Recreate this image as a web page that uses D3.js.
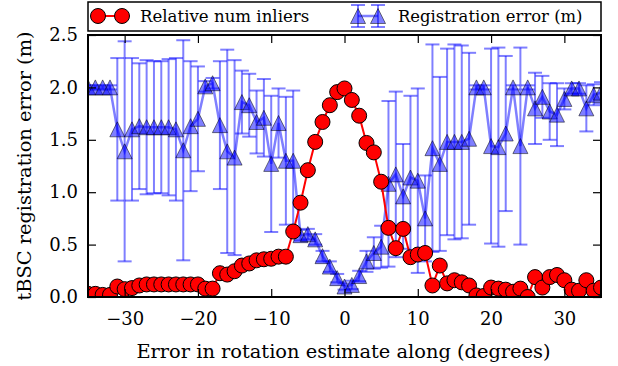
<!DOCTYPE html>
<html><head><meta charset="utf-8">
<script src="https://cdn.jsdelivr.net/npm/d3@7"></script>
<style>body{margin:0;background:#fff}text{font-family:"DejaVu Serif",serif;fill:#000}</style>
</head><body><svg id="c" width="618" height="366"></svg>
<script>
const angles = [-35,-34,-33,-32,-31,-30,-29,-28,-27,-26,-25,-24,-23,-22,-21,-20,-19,-18,-17,-16,-15,-14,-13,-12,-11,-10,-9,-8,-7,-6,-5,-4,-3,-2,-1,0,1,2,3,4,5,6,7,8,9,10,11,12,13,14,15,16,17,18,19,20,21,22,23,24,25,26,27,28,29,30,31,32,33,34,35];
const inliers = [0.03,0.03,0.02,0.02,0.10,0.075,0.085,0.11,0.12,0.12,0.12,0.12,0.12,0.12,0.12,0.12,0.08,0.08,0.227,0.214,0.246,0.30,0.32,0.35,0.36,0.365,0.385,0.385,0.625,0.90,1.21,1.48,1.67,1.83,1.955,1.99,1.88,1.73,1.47,1.38,1.10,0.66,0.466,0.65,0.38,0.405,0.42,0.11,0.30,0.13,0.16,0.14,0.11,0.015,0.01,0.09,0.08,0.07,0.05,0.08,0.0,0.19,0.09,0.19,0.21,0.16,0.07,0.06,0.16,0.06,0.09];
const errMean = [2.0,2.0,2.0,2.0,1.60,1.39,1.60,1.63,1.62,1.62,1.62,1.62,1.60,1.40,1.63,1.70,2.01,2.04,1.64,1.39,1.33,1.86,1.83,1.67,1.71,1.27,1.66,1.30,1.30,0.59,0.60,0.55,0.39,0.29,0.18,0.10,0.115,0.20,0.34,0.42,0.48,1.08,1.17,0.96,1.14,1.11,0.75,1.42,1.27,1.48,1.48,1.48,1.51,2.0,2.0,1.44,1.43,1.56,2.0,1.44,2.0,1.80,1.91,1.77,1.74,1.89,1.99,1.99,1.80,1.93,1.95];
const errStd = [0.02,0.02,0.02,0.02,0.68,1.05,0.68,0.60,0.64,0.63,0.63,0.65,0.68,1.05,0.62,0.50,0.05,0.05,0.61,0.97,0.93,0.30,0.30,0.30,0.37,0.65,0.33,0.61,0.67,0.05,0.05,0.05,0.05,0.05,0.04,0.03,0.04,0.05,0.10,0.15,0.20,0.79,0.79,0.50,0.78,0.88,0.41,0.99,0.83,0.89,0.93,0.92,0.82,0.02,0.02,0.93,0.95,0.74,0.02,0.94,0.02,0.34,0.20,0.27,0.30,0.10,0.05,0.05,0.22,0.10,0.10];
const xTicks = [-30,-20,-10,0,10,20,30];
const yTicks = [0.0,0.5,1.0,1.5,2.0,2.5];
const seriesNames = ["Relative num inliers","Registration error (m)"];
const xTitle = "Error in rotation estimate along (degrees)";
const yTitle = "tBSC registration error (m)";

const svg = d3.select("#c");
const L=88, R=601, T=35, B=297;
const x = d3.scaleLinear().domain([-35,35]).range([L,R]);
const y = d3.scaleLinear().domain([0,2.5]).range([B,T]);

svg.append("defs").append("clipPath").attr("id","clip").append("rect")
  .attr("x",L).attr("y",T).attr("width",R-L).attr("height",B-T);

const g = svg.append("g").attr("clip-path","url(#clip)");
const data = angles.map((a,i)=>({a, inl:inliers[i], m:errMean[i], s:errStd[i]}));
const blue = "#0000ff";
const cap = 7;
const tri = 7.5;
const triPath = `M0,${-tri}L${tri},${tri}L${-tri},${tri}Z`;

const eb = g.append("g").attr("stroke",blue).attr("stroke-opacity",0.5).attr("stroke-width",2).attr("fill","none");
data.forEach(d=>{
  const y0=y(d.m-d.s), y1=y(d.m+d.s), cx=x(d.a);
  eb.append("line").attr("x1",cx).attr("x2",cx).attr("y1",y0).attr("y2",y1);
  eb.append("line").attr("x1",cx-cap).attr("x2",cx+cap).attr("y1",y0).attr("y2",y0);
  eb.append("line").attr("x1",cx-cap).attr("x2",cx+cap).attr("y1",y1).attr("y2",y1);
});
g.append("path").datum(data).attr("fill","none").attr("stroke",blue).attr("stroke-opacity",0.5).attr("stroke-width",2.5)
  .attr("d",d3.line().x(d=>x(d.a)).y(d=>y(d.m)));
g.append("g").selectAll("path").data(data).join("path")
  .attr("d",triPath).attr("transform",d=>`translate(${x(d.a)},${y(d.m)})`)
  .attr("fill",blue).attr("fill-opacity",0.5).attr("stroke","#000").attr("stroke-opacity",0.5).attr("stroke-width",1);

g.append("path").datum(data).attr("fill","none").attr("stroke","#ff0000").attr("stroke-width",2)
  .attr("d",d3.line().x(d=>x(d.a)).y(d=>y(d.inl)));
g.append("g").selectAll("circle").data(data).join("circle")
  .attr("cx",d=>x(d.a)).attr("cy",d=>y(d.inl)).attr("r",7.5)
  .attr("fill","#ff0000").attr("stroke","#000").attr("stroke-width",1);

const tl = 8;
const xa = svg.append("g").attr("transform",`translate(0,${B})`)
  .call(d3.axisBottom(x).tickValues(xTicks).tickSizeInner(-tl).tickSizeOuter(0).tickPadding(15).tickFormat(d=>d<0?"\u2212"+Math.abs(d):String(d)));
const xt = svg.append("g").attr("transform",`translate(0,${T})`)
  .call(d3.axisTop(x).tickValues(xTicks).tickSizeInner(-tl).tickSizeOuter(0).tickFormat(""));
const ya = svg.append("g").attr("transform",`translate(${L},0)`)
  .call(d3.axisLeft(y).tickValues(yTicks).tickSizeInner(-tl).tickSizeOuter(0).tickPadding(10).tickFormat(d3.format(".1f")));
const yr = svg.append("g").attr("transform",`translate(${R},0)`)
  .call(d3.axisRight(y).tickValues(yTicks).tickSizeInner(-tl).tickSizeOuter(0).tickFormat(""));
[xa,xt,ya,yr].forEach(a=>{a.select(".domain").remove();a.selectAll("line").attr("stroke","#000").attr("stroke-width",1.2);});
svg.selectAll(".tick text").attr("font-family","DejaVu Serif").attr("font-size",18).attr("fill","#000");
svg.append("rect").attr("x",L).attr("y",T).attr("width",R-L).attr("height",B-T)
  .attr("fill","none").attr("stroke","#000").attr("stroke-width",2);

svg.append("text").attr("x",(L+R)/2-1).attr("y",358).attr("text-anchor","middle").attr("font-size",19.4).text(xTitle);
svg.append("text").attr("transform",`translate(31,${(T+B)/2}) rotate(-90)`).attr("text-anchor","middle").attr("font-size",19.4).text(yTitle);

const lg = svg.append("g");
lg.append("rect").attr("x",L).attr("y",2).attr("width",R-L).attr("height",29).attr("fill","#fff").attr("stroke","#000").attr("stroke-width",1.5);
const ly = 16;
lg.append("line").attr("x1",98).attr("x2",122).attr("y1",ly).attr("y2",ly).attr("stroke","#ff0000").attr("stroke-width",2);
[98,122].forEach(cx=>lg.append("circle").attr("cx",cx).attr("cy",ly).attr("r",7.5).attr("fill","#ff0000").attr("stroke","#000").attr("stroke-width",1));
lg.append("text").attr("x",140).attr("y",ly+5.5).attr("font-size",16.6).text(seriesNames[0]);
[358,378].forEach(cx=>{
  lg.append("line").attr("x1",cx).attr("x2",cx).attr("y1",5).attr("y2",27).attr("stroke",blue).attr("stroke-opacity",0.5).attr("stroke-width",2);
  lg.append("line").attr("x1",cx-cap).attr("x2",cx+cap).attr("y1",5).attr("y2",5).attr("stroke",blue).attr("stroke-opacity",0.5).attr("stroke-width",2);
  lg.append("line").attr("x1",cx-cap).attr("x2",cx+cap).attr("y1",27).attr("y2",27).attr("stroke",blue).attr("stroke-opacity",0.5).attr("stroke-width",2);
});
lg.append("line").attr("x1",358).attr("x2",378).attr("y1",ly).attr("y2",ly).attr("stroke",blue).attr("stroke-opacity",0.5).attr("stroke-width",2.5);
[358,378].forEach(cx=>lg.append("path").attr("d",triPath).attr("transform",`translate(${cx},${ly})`)
  .attr("fill",blue).attr("fill-opacity",0.5).attr("stroke","#000").attr("stroke-opacity",0.5).attr("stroke-width",1));
lg.append("text").attr("x",398).attr("y",ly+5.5).attr("font-size",16.4).text(seriesNames[1]);
</script></body></html>
